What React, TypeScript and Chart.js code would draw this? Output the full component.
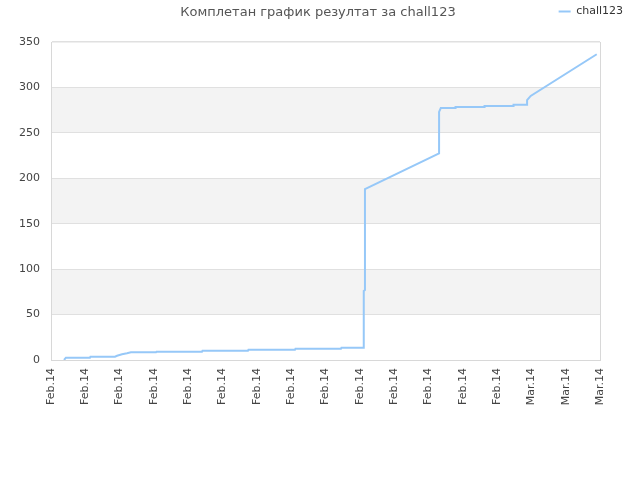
import { useEffect, useRef } from "react"
import { Chart, registerables } from "chart.js"

Chart.register(...registerables)

// x values are days since Feb 1 2014
const seriesName = "chall123"
const dayValues = [
  0.76, 0.87, 2.27, 2.3, 3.73, 3.85, 4.14, 4.43, 4.66, 6.12, 6.15, 8.8, 8.83,
  11.48, 11.51, 14.22, 14.25, 16.9, 16.93, 18.23, 18.23, 18.3, 18.3, 22.62,
  22.62, 22.72, 23.55, 23.58, 25.24, 25.27, 26.93, 26.96, 27.75, 27.75, 27.96,
  31.81,
]
const scoreValues = [
  0, 2.5, 2.5, 3.7, 3.7, 4.7, 6.3, 7.4, 8.4, 8.4, 9.1, 9.1, 10.2, 10.2, 11.3,
  11.3, 12.4, 12.4, 13.5, 13.5, 76, 77, 188, 227.5, 273, 277.3, 277.3, 278.5,
  278.5, 279.5, 279.5, 281, 281, 286, 290.6, 336.5,
]
const tickLabels = [
  "Feb.14", "Feb.14", "Feb.14", "Feb.14", "Feb.14", "Feb.14", "Feb.14",
  "Feb.14", "Feb.14", "Feb.14", "Feb.14", "Feb.14", "Feb.14", "Feb.14",
  "Mar.14", "Mar.14", "Mar.14",
]
const shadedBands = [
  [50, 100],
  [150, 200],
  [250, 300],
]

const FONT = "'DejaVu Sans', sans-serif"

const bandPlugin = {
  id: "bands",
  beforeDraw(chart: Chart) {
    const { ctx, chartArea, scales } = chart
    const y = scales.y
    ctx.save()
    ctx.fillStyle = "#f3f3f3"
    for (const [lo, hi] of shadedBands) {
      const top = y.getPixelForValue(hi)
      const bottom = y.getPixelForValue(lo)
      ctx.fillRect(chartArea.left, top, chartArea.right - chartArea.left, bottom - top)
    }
    ctx.restore()
  },
}

export default function App() {
  const chartRef = useRef<HTMLCanvasElement>(null)
  const chartInstance = useRef<Chart | null>(null)

  useEffect(() => {
    if (!chartRef.current) return
    if (chartInstance.current) chartInstance.current.destroy()
    const ctx = chartRef.current.getContext("2d")
    if (!ctx) return

    chartInstance.current = new Chart(ctx, {
      type: "line",
      data: {
        datasets: [
          {
            label: seriesName,
            data: dayValues.map((d, i) => ({ x: d, y: scoreValues[i] })),
            borderColor: "rgb(150, 200, 248)",
            backgroundColor: "rgb(150, 200, 248)",
            borderWidth: 2,
            pointRadius: 0,
            tension: 0,
            fill: false,
          },
        ],
      },
      options: {
        animation: false,
        responsive: true,
        maintainAspectRatio: false,
        layout: { padding: { top: 0, right: 11, left: 0, bottom: 0 } },
        plugins: {
          legend: {
            position: "top",
            align: "end",
            labels: {
              usePointStyle: true,
              pointStyle: "line",
              pointStyleWidth: 12,
              padding: 6,
              color: "#333",
              font: { family: FONT, size: 11 },
            },
          },
          tooltip: { enabled: false },
        },
        scales: {
          x: {
            type: "linear",
            min: 0,
            max: 32,
            ticks: {
              stepSize: 2,
              autoSkip: false,
              maxRotation: 90,
              minRotation: 90,
              padding: 8,
              color: "#444",
              font: { family: FONT, size: 11 },
              callback: (_v: any, i: number) => tickLabels[i],
            },
            grid: {
              drawTicks: false,
              color: (c: any) => (c.index === tickLabels.length - 1 ? "#d8d8d8" : "transparent"),
            },
            border: { color: "#d8d8d8" },
            afterFit: (s: any) => {
              s.height = 120
            },
          },
          xTop: {
            axis: "x",
            type: "linear",
            position: "top",
            ticks: { display: false },
            grid: { display: false, drawTicks: false },
            border: { display: false },
            afterFit: (s: any) => {
              s.height = 15
            },
          },
          y: {
            min: 0,
            max: 350,
            ticks: {
              stepSize: 50,
              padding: 11,
              color: "#444",
              font: { family: FONT, size: 11 },
            },
            grid: {
              drawTicks: false,
              color: "#e0e0e0",
              lineWidth: (c: any) => (c.tick && c.tick.value === 350 ? 1.6 : 1),
            },
            border: { color: "#d8d8d8" },
            afterFit: (s: any) => {
              s.width = 51
            },
          },
          yRight: {
            axis: "y",
            type: "linear",
            position: "right",
            ticks: { display: false },
            grid: { display: false, drawTicks: false },
            border: { display: false },
            afterFit: (s: any) => {
              s.width = 29
            },
          },
        },
      },
      plugins: [bandPlugin],
    } as any)

    return () => {
      if (chartInstance.current) {
        chartInstance.current.destroy()
        chartInstance.current = null
      }
    }
  }, [])

  return (
    <div style={{ position: "fixed", left: 0, top: 0, width: 640, height: 480, background: "#fff" }}>
      <div
        style={{
          position: "absolute",
          top: 4,
          left: 0,
          width: 636,
          textAlign: "center",
          fontFamily: FONT,
          fontSize: 13,
          color: "#555",
        }}
      >
        Комплетан график резултат за chall123
      </div>
      <canvas ref={chartRef} />
    </div>
  )
}
